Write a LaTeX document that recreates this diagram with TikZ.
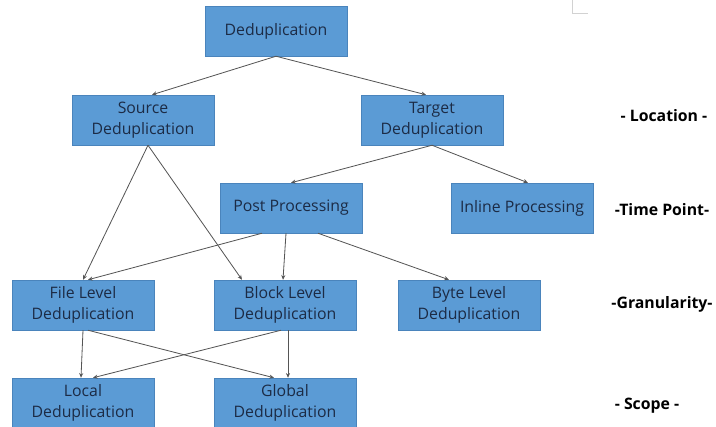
\documentclass[tikz,border=0pt]{standalone}
\usepackage{fontspec}
\setmainfont{Open Sans}
\usetikzlibrary{arrows.meta}
\definecolor{boxblue}{HTML}{5B9BD5}
\definecolor{boxline}{HTML}{4A84BC}
\definecolor{boxtext}{HTML}{1C2B45}
\definecolor{edgegray}{HTML}{555555}

\begin{document}
\begin{tikzpicture}[x=0.03cm,y=-0.03cm,
        box/.style={draw=boxline,fill=boxblue,text=boxtext,minimum width=4.26cm,minimum height=1.5cm,
            align=center,inner sep=0pt,font=\fontsize{13.5}{18}\selectfont},
        level/.style={text=black,font=\fontsize{13.5}{16}\selectfont\bfseries},
        link/.style={draw=edgegray,line width=0.7pt,-{Stealth[length=4pt,width=3.5pt]}}]
            \useasboundingbox (0,0) rectangle (716,427);
            \clip (0,0) rectangle (716,427);
            \draw[gray!35,line width=0.8pt] (572,0) -- (572,13) -- (588,13);

            \node[box] (dedup) at (276,31) {Deduplication};
            \node[box] (source) at (143,120) {Source\\Deduplication};
            \node[box] (target) at (432,120) {Target\\Deduplication};
            \node[box] (post) at (291,208) {Post Processing};
            \node[box] (inline) at (522,208) {Inline Processing};
            \node[box] (file) at (83,305) {File Level\\Deduplication};
            \node[box] (block) at (285,305) {Block Level\\Deduplication};
            \node[box] (byte) at (469,305) {Byte Level\\Deduplication};
            \node[box] (local) at (83,403) {Local\\Deduplication};
            \node[box] (global) at (285,403) {Global\\Deduplication};

            \node[level] (location) at (664,116) {- Location -};
            \node[level] (timepoint) at (662,210) {-Time Point-};
            \node[level] (granularity) at (662,304) {-Granularity-};
            \node[level] (scope) at (647,406) {- Scope -};

            \draw[link] (dedup.south) -- ([xshift=0.27cm]source.north);
            \draw[link] (dedup.south) -- ([xshift=-0.18cm]target.north);
            \draw[link] ([xshift=0.15cm]source.south) -- (file.north);
            \draw[link] ([xshift=0.15cm]source.south) -- ([xshift=-1.29cm]block.north);
            \draw[link] (target.south) -- (post.north);
            \draw[link] (target.south) -- ([xshift=0.18cm]inline.north);
            \draw[link] ([xshift=-0.87cm]post.south) -- ([xshift=0.15cm]file.north);
            \draw[link] ([xshift=-0.15cm]post.south) -- ([xshift=-0.06cm]block.north);
            \draw[link] ([xshift=0.81cm]post.south) -- ([xshift=-0.6cm]byte.north);
            \draw[link] (file.south) -- ([xshift=-0.06cm]local.north);
            \draw[link] ([xshift=0.15cm]file.south) -- ([xshift=-0.33cm]global.north);
            \draw[link] ([xshift=-0.12cm]block.south) -- ([xshift=0.3cm]local.north);
            \draw[link] ([xshift=0.09cm]block.south) -- ([xshift=0.09cm]global.north);

        \end{tikzpicture}
\end{document}
